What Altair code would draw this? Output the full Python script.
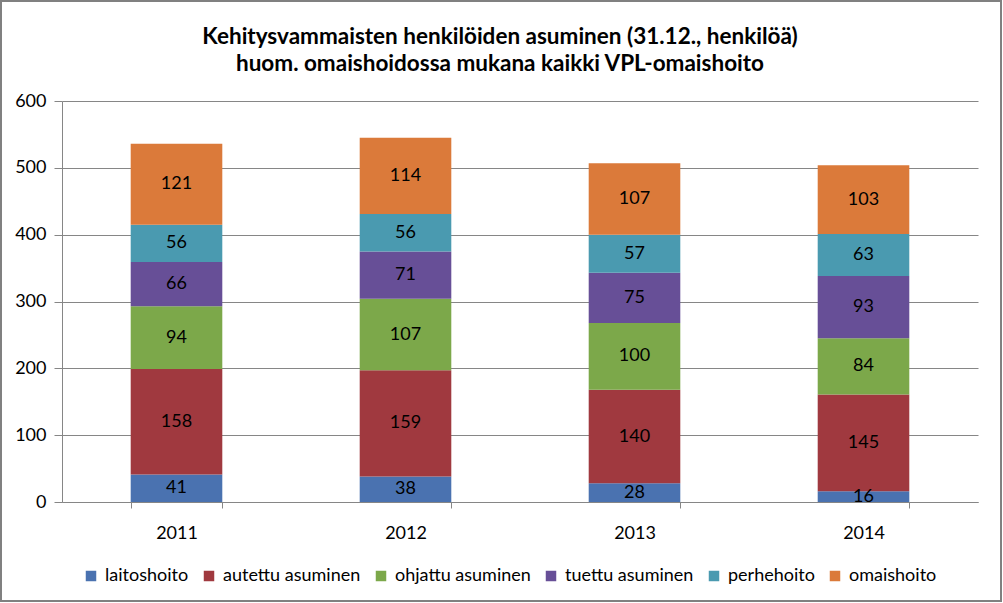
import altair as alt
import pandas as pd

years = ["2011", "2012", "2013", "2014"]
categories = ["laitoshoito", "autettu asuminen", "ohjattu asuminen",
              "tuettu asuminen", "perhehoito", "omaishoito"]
laitoshoito = [41, 38, 28, 16]
autettu = [158, 159, 140, 145]
ohjattu = [94, 107, 100, 84]
tuettu = [66, 71, 75, 93]
perhehoito = [56, 56, 57, 63]
omaishoito = [121, 114, 107, 103]
colors = ["#4A72B0", "#A0393F", "#7CA84A", "#674F97", "#4A9AB0", "#DB7A3A"]
title_lines = ["Kehitysvammaisten henkilöiden asuminen (31.12., henkilöä)",
               "huom. omaishoidossa mukana kaikki VPL-omaishoito"]

series = [laitoshoito, autettu, ohjattu, tuettu, perhehoito, omaishoito]
rows = []
for ci, (cat, vals) in enumerate(zip(categories, series)):
    for y, v in zip(years, vals):
        rows.append({"vuosi": y, "tyyppi": cat, "arvo": v, "jarj": ci})
df = pd.DataFrame(rows)

FONT = "Lato"
FS = 18
GRID = "#868686"

base = alt.Chart(df).transform_stack(
    stack="arvo", groupby=["vuosi"], as_=["y0", "y1"],
    sort=[alt.SortField("jarj", order="ascending")]
).transform_calculate(mid="(datum.y0 + datum.y1) / 2")

xenc = alt.X("vuosi:N", sort=years,
             scale=alt.Scale(paddingInner=0.6, paddingOuter=0.3),
             axis=alt.Axis(title=None, labelAngle=0, tickBand="extent",
                           labelFontSize=FS, labelFont=FONT, labelColor="#000000",
                           labelPadding=16, tickSize=6, tickColor=GRID,
                           domainColor=GRID, grid=False))

bars = base.mark_bar().encode(
    x=xenc,
    y=alt.Y("y0:Q", scale=alt.Scale(domain=[0, 600]),
            axis=alt.Axis(title=None, values=[0, 100, 200, 300, 400, 500, 600],
                          labelFontSize=FS, labelFont=FONT, labelColor="#000000",
                          labelPadding=8, tickSize=8, tickColor=GRID,
                          domainColor=GRID, gridColor=GRID, gridOpacity=1)),
    y2="y1:Q",
    color=alt.Color("tyyppi:N", sort=categories,
                    scale=alt.Scale(domain=categories, range=colors),
                    legend=alt.Legend(title=None, orient="none", direction="horizontal",
                                      legendX=20, legendY=466,
                                      symbolType="square", symbolSize=110,
                                      symbolStrokeWidth=0, labelFontSize=FS,
                                      labelFont=FONT, labelColor="#000000",
                                      labelOffset=5, columnPadding=11)),
    order=alt.Order("jarj:Q"),
)

labels = base.mark_text(fontSize=FS, font=FONT, color="#000000", baseline="middle").encode(
    x=alt.X("vuosi:N", sort=years),
    y=alt.Y("mid:Q"),
    text=alt.Text("arvo:Q"),
)

frame = alt.Chart(pd.DataFrame({"k": [0]})).mark_rect(
    fill=None, stroke="#808080", strokeWidth=2
).encode(x=alt.value(-61), x2=alt.value(939), y=alt.value(-100), y2=alt.value(500))

chart = alt.layer(bars, labels, frame).properties(
    width=916, height=401,
    title=alt.TitleParams(text=title_lines, fontSize=22.5, font=FONT, fontWeight="bold",
                          anchor="middle", frame="group", dx=-20, offset=-75, lineHeight=27,
                          color="#000000"),
    autosize=alt.AutoSizeParams(type="none"),
    padding={"left": 62, "top": 101, "right": 25, "bottom": 101},
    background="#ffffff",
).configure_view(stroke=None).configure_axisY(domain=True)

chart.save("out.html", embed_options={"renderer": "svg", "actions": False})
